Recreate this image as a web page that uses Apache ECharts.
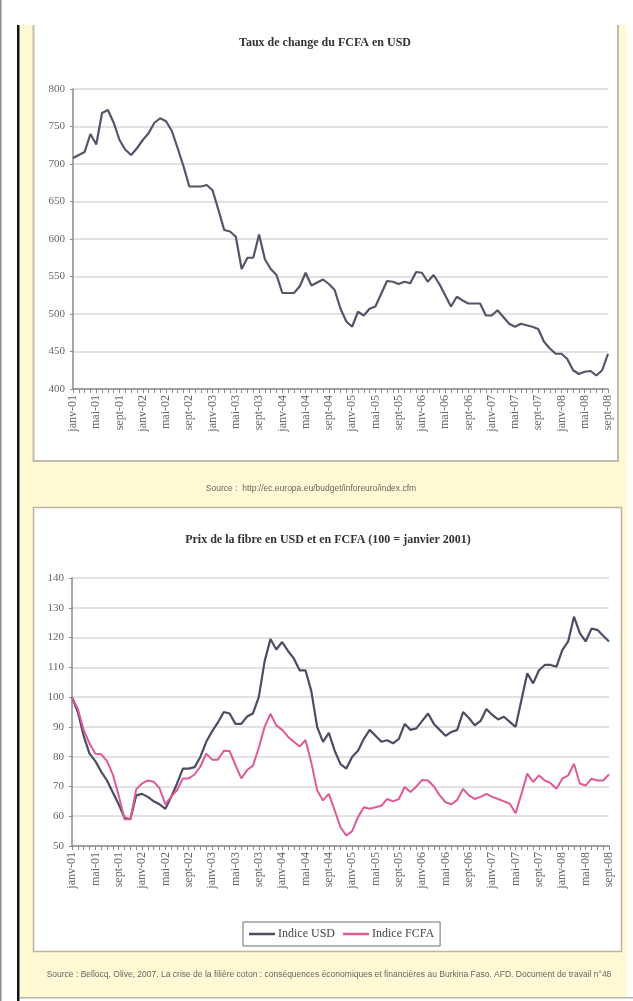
<!DOCTYPE html>
<html>
<head>
<meta charset="utf-8">
<script src="https://cdn.jsdelivr.net/npm/echarts@6/dist/echarts.min.js"></script>
<style>
  html, body { margin: 0; padding: 0; background: #fff; }
  #chart { width: 633px; height: 1001px; }
</style>
</head>
<body>
<div id="chart"></div>
<script>
// monthly categories janv-01 .. sept-08
const months = [
  "janv-01","févr-01","mars-01","avr-01","mai-01","juin-01","juil-01","août-01","sept-01","oct-01","nov-01","déc-01",
  "janv-02","févr-02","mars-02","avr-02","mai-02","juin-02","juil-02","août-02","sept-02","oct-02","nov-02","déc-02",
  "janv-03","févr-03","mars-03","avr-03","mai-03","juin-03","juil-03","août-03","sept-03","oct-03","nov-03","déc-03",
  "janv-04","févr-04","mars-04","avr-04","mai-04","juin-04","juil-04","août-04","sept-04","oct-04","nov-04","déc-04",
  "janv-05","févr-05","mars-05","avr-05","mai-05","juin-05","juil-05","août-05","sept-05","oct-05","nov-05","déc-05",
  "janv-06","févr-06","mars-06","avr-06","mai-06","juin-06","juil-06","août-06","sept-06","oct-06","nov-06","déc-06",
  "janv-07","févr-07","mars-07","avr-07","mai-07","juin-07","juil-07","août-07","sept-07","oct-07","nov-07","déc-07",
  "janv-08","févr-08","mars-08","avr-08","mai-08","juin-08","juil-08","août-08","sept-08"
];

// taux de change FCFA / USD
const tauxFcfa = [
  708, 712, 716, 740, 726, 768, 772, 755, 732, 719, 712, 721,
  732, 741, 755, 761, 757, 744, 721, 697, 670, 670, 670, 672,
  665, 639, 612, 610, 603, 560, 575, 575, 606, 573, 560, 552,
  528, 528, 528, 537, 555, 538, 542, 546, 540, 532, 507, 490,
  483, 503, 498, 507, 510, 527, 544, 543, 540, 543, 541, 556,
  555, 543, 552, 540, 525, 510, 523, 518, 514, 514, 514, 498,
  498, 505, 496, 487, 483, 487, 485, 483, 480, 463, 454, 447,
  447, 440, 425, 420, 423, 424, 418, 425, 447
];

// prix de la fibre, base 100 = janvier 2001
const indiceUsd = [
  100, 95, 87, 81, 78.5, 75, 72, 68, 64, 59.5, 59, 67,
  67.5, 66.5, 65, 64, 62.5, 66.5, 71, 76, 76, 76.5, 80, 85,
  88.5, 91.5, 95, 94.5, 91, 91, 93.5, 94.5, 100, 112, 119.5, 116,
  118.5, 115.5, 113, 109, 109, 102, 90, 85, 88, 82, 77.5, 76,
  80, 82, 86, 89, 87, 85, 85.5, 84.5, 86, 91, 89, 89.5,
  92, 94.5, 91, 89, 87, 88.3, 89, 95, 93, 90.5, 92, 96,
  94, 92.5, 93.4, 91.7, 90, 99, 108, 104.6, 109, 110.8, 110.8, 110.2,
  115.8, 118.7, 127, 121.5, 118.7, 123, 122.6, 120.6, 118.7
];
const indiceFcfa = [
  100, 96, 89, 84.5, 81, 80.8, 78.5, 74, 67, 59, 59, 69,
  71, 72, 71.6, 69.4, 64, 66.6, 68.8, 72.7, 72.7, 74, 76.7, 81,
  79, 79, 82, 81.9, 77.2, 72.7, 75.5, 77, 83, 90, 94.4, 90.5,
  89, 86.7, 85, 83.4, 85.6, 78, 68.7, 65.3, 67.5, 62, 56.3, 53.5,
  55, 59.7, 63, 62.5, 63, 63.5, 65.8, 65, 65.8, 69.8, 68.1, 70,
  72.2, 72, 70, 67, 64.7, 64, 65.5, 69.2, 67, 65.8, 66.5, 67.5,
  66.5, 65.8, 65, 64.2, 61, 67.5, 74.3, 71.5, 73.7, 72, 71.1, 69.2,
  72.6, 73.7, 77.6, 71, 70.3, 72.6, 72, 72, 74
];

const SERIF = "'Liberation Serif', 'DejaVu Serif', serif";
const SANS = "'Liberation Sans', Arial, sans-serif";
const LABEL_COLOR = "#666";

const chart = echarts.init(document.getElementById("chart"));

const xAxisBase = (gridIndex) => ({
  type: "category",
  gridIndex: gridIndex,
  data: months,
  boundaryGap: false,
  axisLine: { lineStyle: { color: "#8a8a8a", width: 1.5 } },
  axisTick: { show: true, interval: 0, length: 4, lineStyle: { color: "#8a8a8a" } },
  axisLabel: {
    interval: 3,
    rotate: 90,
    margin: 6,
    fontFamily: SERIF,
    fontSize: 12,
    color: LABEL_COLOR,
  },
  splitLine: { show: false },
});

const yAxisBase = (gridIndex, min, max, interval) => ({
  type: "value",
  gridIndex: gridIndex,
  min: min,
  max: max,
  interval: interval,
  axisLine: { show: true, lineStyle: { color: "#8a8a8a", width: 1.5 } },
  axisTick: { show: true, length: 3, lineStyle: { color: "#8a8a8a" } },
  axisLabel: { margin: 8, fontFamily: SERIF, fontSize: 11, color: LABEL_COLOR },
  splitLine: { show: true, lineStyle: { color: "#e2e2e2", width: 2 } },
});

const option = {
  backgroundColor: "#fff",
  animation: false,
  title: [
    {
      text: "Taux de change du FCFA en USD",
      left: 325,
      top: 37,
      textAlign: "center",
      padding: 0,
      textStyle: { fontFamily: SERIF, fontSize: 12, fontWeight: "bold", color: "#333" },
    },
    {
      text: "Prix de la fibre en USD et en FCFA (100 = janvier 2001)",
      left: 328,
      top: 534,
      textAlign: "center",
      padding: 0,
      textStyle: { fontFamily: SERIF, fontSize: 12, fontWeight: "bold", color: "#333" },
    },
  ],
  graphic: [
    // outer frame
    { type: "rect", z: -10, shape: { x: 0, y: 0, width: 1.5, height: 1001 }, style: { fill: "#8c8c8c" } },
    { type: "rect", z: -10, shape: { x: 20, y: 25, width: 607, height: 973 }, style: { fill: "#fff9d4" } },
    { type: "rect", z: -10, shape: { x: 17, y: 25, width: 2.5, height: 976 }, style: { fill: "#111" } },
    { type: "rect", z: -10, shape: { x: 20, y: 997, width: 613, height: 1.5 }, style: { fill: "#b5b5b5" } },
    // top white box (top edge cut off)
    { type: "rect", z: -9, shape: { x: 33, y: 25, width: 585, height: 436 }, style: { fill: "#fff" } },
    {
      type: "polyline", z: -8,
      shape: { points: [[33.5, 25], [33.5, 461], [618, 461], [618, 25]] },
      style: { stroke: "#c4bca8", lineWidth: 2, fill: null },
    },
    // bottom white box
    {
      type: "rect", z: -9,
      shape: { x: 33.5, y: 507.5, width: 588, height: 444 },
      style: { fill: "#fff", stroke: "#bdb5a2", lineWidth: 1.5 },
    },
    // sources
    {
      type: "text", z: -7, x: 311, y: 489,
      style: {
        text: "Source :  http://ec.europa.eu/budget/inforeuro/index.cfm",
        fontFamily: SANS,
        fontSize: 8.5,
        fill: "#666",
        align: "center",
        verticalAlign: "middle",
      },
    },
    {
      type: "text", z: -7, x: 329, y: 975,
      style: {
        text: "Source : Bellocq, Olive, 2007. La crise de la filière coton : conséquences économiques et financières au Burkina Faso. AFD. Document de travail n°48",
        fontFamily: SANS,
        fontSize: 8.5,
        fill: "#666",
        align: "center",
        verticalAlign: "middle",
      },
    },
  ],
  legend: {
    data: ["Indice USD", "Indice FCFA"],
    left: 243,
    top: 922,
    orient: "horizontal",
    itemWidth: 26,
    itemHeight: 2.5,
    itemGap: 8,
    icon: "rect",
    padding: [6, 6],
    borderColor: "#6f6f6f",
    borderWidth: 1,
    textStyle: { fontFamily: SERIF, fontSize: 12, color: "#444", padding: [0, 0, 0, -2] },
  },
  grid: [
    { left: 73, top: 89, width: 535, height: 300, containLabel: false },
    { left: 72, top: 578, width: 537, height: 268, containLabel: false },
  ],
  xAxis: [xAxisBase(0), xAxisBase(1)],
  yAxis: [yAxisBase(0, 400, 800, 50), yAxisBase(1, 50, 140, 10)],
  series: [
    {
      name: "Taux FCFA/USD",
      type: "line",
      xAxisIndex: 0,
      yAxisIndex: 0,
      data: tauxFcfa,
      symbol: "none",
      lineStyle: { color: "#55556a", width: 2.2 },
      itemStyle: { color: "#55556a" },
    },
    {
      name: "Indice USD",
      type: "line",
      xAxisIndex: 1,
      yAxisIndex: 1,
      data: indiceUsd,
      symbol: "none",
      lineStyle: { color: "#4c4c62", width: 2.2 },
      itemStyle: { color: "#4c4c62" },
    },
    {
      name: "Indice FCFA",
      type: "line",
      xAxisIndex: 1,
      yAxisIndex: 1,
      data: indiceFcfa,
      symbol: "none",
      lineStyle: { color: "#df5b98", width: 2 },
      itemStyle: { color: "#df5b98" },
    },
  ],
};

chart.setOption(option);
</script>
</body>
</html>
